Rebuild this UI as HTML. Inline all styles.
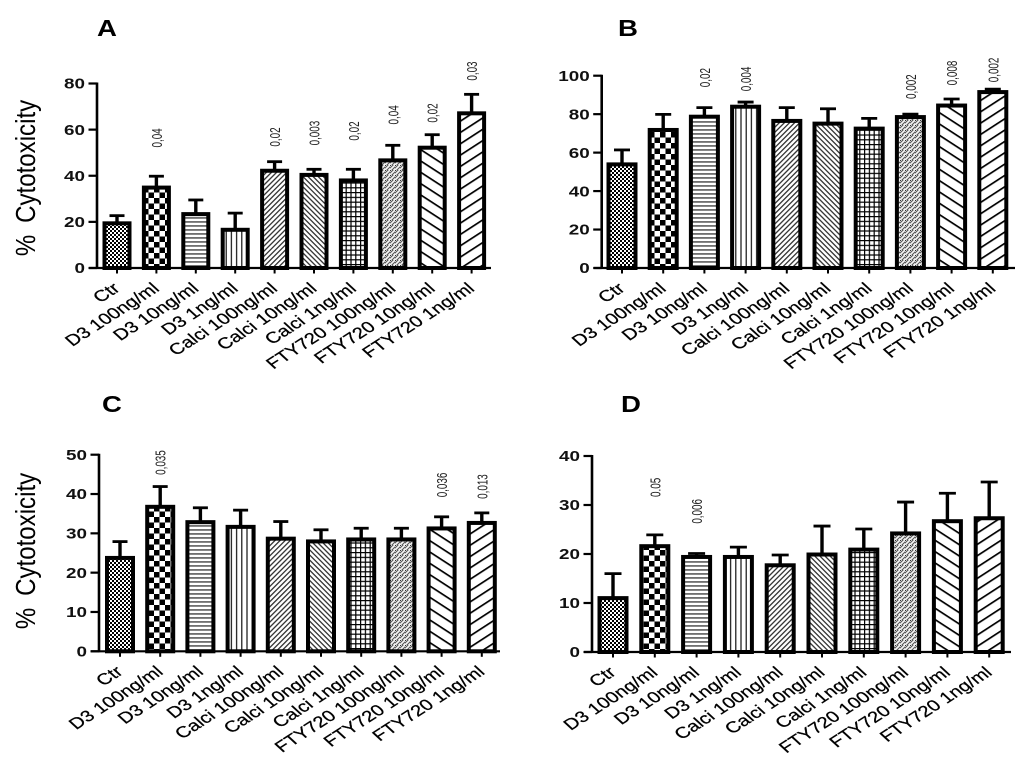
<!DOCTYPE html>
<html lang="en">
<head>
<meta charset="utf-8">
<title>% Cytotoxicity bar charts</title>
<style>
html,body{margin:0;padding:0;background:#fff;width:1024px;height:772px;overflow:hidden}
svg{display:block;filter:blur(0.3px)}
text{font-family:"Liberation Sans",sans-serif}
</style>
</head>
<body>
<svg id="figure" xmlns="http://www.w3.org/2000/svg" width="1024" height="772" viewBox="0 0 1024 772">
<defs>
<pattern id="p0" patternUnits="userSpaceOnUse" width="4" height="4"><rect width="4" height="4" fill="#fff"/><rect width="2" height="2" fill="#000"/><rect x="2" y="2" width="2" height="2" fill="#000"/></pattern>
<pattern id="p1" patternUnits="userSpaceOnUse" width="11" height="11"><rect width="11" height="11" fill="#fff"/><rect width="5.5" height="5.5" fill="#000"/><rect x="5.5" y="5.5" width="5.5" height="5.5" fill="#000"/></pattern>
<pattern id="p2" patternUnits="userSpaceOnUse" width="4" height="4"><rect width="4" height="4" fill="#fff"/><rect y="1.4" width="4" height="1.1" fill="#111"/></pattern>
<pattern id="p3" patternUnits="userSpaceOnUse" width="5.2" height="4"><rect width="5.2" height="4" fill="#fff"/><rect x="2" width="1.2" height="4" fill="#111"/></pattern>
<pattern id="p4" patternUnits="userSpaceOnUse" width="3.6" height="3.6" patternTransform="rotate(-45)"><rect width="3.6" height="3.6" fill="#fff"/><rect width="3.6" height="1.3" fill="#333"/></pattern>
<pattern id="p5" patternUnits="userSpaceOnUse" width="3.6" height="3.6" patternTransform="rotate(45)"><rect width="3.6" height="3.6" fill="#fff"/><rect width="3.6" height="1.3" fill="#333"/></pattern>
<pattern id="p6" patternUnits="userSpaceOnUse" width="4.8" height="4.8"><rect width="4.8" height="4.8" fill="#fff"/><rect width="1.2" height="4.8" fill="#000"/><rect width="4.8" height="1.2" fill="#000"/></pattern>
<pattern id="p7" patternUnits="userSpaceOnUse" width="5" height="5"><rect width="5" height="5" fill="#f4f4f4"/><path d="M-1 4L4 -1M1 6L6 1" stroke="#555" stroke-width="1.1"/><rect width="1" height="1" fill="#333"/></pattern>
<pattern id="p8" patternUnits="userSpaceOnUse" width="9.5" height="9.5" patternTransform="rotate(33)"><rect width="9.5" height="9.5" fill="#fff"/><rect width="9.5" height="1.7" fill="#000"/></pattern>
<pattern id="p9" patternUnits="userSpaceOnUse" width="9.5" height="9.5" patternTransform="rotate(-33)"><rect width="9.5" height="9.5" fill="#fff"/><rect width="9.5" height="1.7" fill="#000"/></pattern>
</defs>
</svg>
<script>
const categories = ["Ctr","D3 100ng/ml","D3 10ng/ml","D3 1ng/ml","Calci 100ng/ml","Calci 10ng/ml","Calci 1ng/ml","FTY720 100ng/ml","FTY720 10ng/ml","FTY720 1ng/ml"];

const valuesA = [19.8,35.3,23.8,17,42.6,40.8,38.4,47.1,52.6,67.5];
const errorTopA = [22.7,39.8,29.5,23.8,46.1,42.8,42.8,53.2,57.8,75.3];
const ticksA = [0,20,40,60,80];
const pTextA = ["0,04","0,02","0,003","0,02","0,04","0,02","0,03"];
const pBarA = [1,4,5,6,7,8,9];
const pLevelA = [56.4,56.8,58.5,59.4,66.4,67.2,85.4];

const valuesB = [54.4,72.3,79.2,84.4,77,75.6,73,79,85,92];
const errorTopB = [61.4,79.9,83.4,86.3,83.4,82.8,77.8,80,87.9,93];
const ticksB = [0,20,40,60,80,100];
const pTextB = ["0,02","0,004","0,002","0,008","0,002"];
const pBarB = [2,3,7,8,9];
const pLevelB = [99,98.3,94.3,101.4,103];

const valuesC = [24,37,33.1,31.9,28.9,28.2,28.7,28.7,31.5,32.9];
const errorTopC = [27.9,41.9,36.5,35.9,33,30.9,31.3,31.3,34.2,35.2];
const ticksC = [0,10,20,30,40,50];
const pTextC = ["0,035","0,036","0,013"];
const pBarC = [1,8,9];
const pLevelC = [48,42.3,41.9];

const valuesD = [11.2,21.8,19.6,19.6,17.9,20.1,21.1,24.4,26.9,27.5];
const errorTopD = [16,23.9,20.1,21.4,19.8,25.7,25.1,30.6,32.4,34.7];
const ticksD = [0,10,20,30,40];
const pTextD = ["0.05","0,006"];
const pBarD = [1,2];
const pLevelD = [33.6,28.7];

const svg = document.getElementById('figure');
const NS = 'http://www.w3.org/2000/svg';

function make(tag, attrs, parent) {
  const el = document.createElementNS(NS, tag);
  for (const k in attrs) el.setAttribute(k, attrs[k]);
  parent.appendChild(el);
  return el;
}

function drawPanel(cfg, values, errorTop, ticks, pText, pBar, pLevel) {
  const yScale = v => cfg.y0 - v * (cfg.y0 - cfg.yTop) / cfg.max;
  const xScale = i => cfg.x0 + i * cfg.step;

  const g = make('g', {}, svg);
  
  

  const letter = make('text', {
    transform: 'translate(' + cfg.letterX + ',' + cfg.letterY + ') scale(1.2,1)',
    'font-size': 23, 'font-weight': 'bold', fill: '#000'
  }, g);
  letter.textContent = cfg.id;
  
  

  if (cfg.title) {
    const title = make('text', {
      transform: 'translate(' + cfg.titleX + ',' + cfg.titleY + ') rotate(-90) scale(0.86,1)',
      'font-size': 28, 'text-anchor': 'middle', 'word-spacing': 6, fill: '#000'
    }, g);
    title.textContent = '% Cytotoxicity';
    
    
  }

  values.forEach((v, i) => {
    const x = xScale(i);
    const sw = 4;
    const stem = make('line', {
      x1: x, x2: x, y1: yScale(v), y2: yScale(errorTop[i]),
      stroke: '#000', 'stroke-width': 3.4
    }, g);
    
    

    const cap = make('line', {
      x1: x - cfg.capW / 2, x2: x + cfg.capW / 2, y1: yScale(errorTop[i]), y2: yScale(errorTop[i]),
      stroke: '#000', 'stroke-width': 2.8
    }, g);
    
    

    const bar = make('rect', {
      x: x - cfg.barW / 2 + sw / 2, y: yScale(v) + 1,
      width: cfg.barW - sw, height: cfg.y0 - yScale(v) - 1,
      fill: 'url(#p' + i + ')', stroke: '#000', 'stroke-width': sw
    }, g);
    
    

    const tick = make('line', {
      x1: x, x2: x, y1: cfg.y0, y2: cfg.y0 + 5.5, stroke: '#000', 'stroke-width': 2
    }, g);
    
    

    const label = make('text', {
      transform: 'translate(' + (x + 4) + ',' + (cfg.y0 + 22) + ') scale(1.3,1) rotate(-40)',
      'font-size': 15.6, 'text-anchor': 'end', fill: '#000', stroke: '#000', 'stroke-width': 0.25
    }, g);
    label.textContent = categories[i];
    
    
  });

  const yAxis = make('line', {
    x1: cfg.axisX, x2: cfg.axisX, y1: cfg.yTop - 1, y2: cfg.y0 + 1, stroke: '#000', 'stroke-width': 2.6
  }, g);
  
  

  const xAxis = make('line', {
    x1: cfg.axisX - 8, x2: cfg.axisEnd, y1: cfg.y0, y2: cfg.y0, stroke: '#000', 'stroke-width': 2.2
  }, g);
  
  

  ticks.forEach(t => {
    const y = yScale(t);
    const tk = make('line', {
      x1: cfg.axisX - 8.5, x2: cfg.axisX, y1: y, y2: y, stroke: '#000', 'stroke-width': 2.2
    }, g);
    
    

    const lb = make('text', {
      transform: 'translate(' + (cfg.axisX - 12) + ',' + (y + 5.2) + ') scale(1.3,1)',
      'font-size': 14.5, 'font-weight': 'bold', 'text-anchor': 'end', fill: '#111'
    }, g);
    lb.textContent = t;
    
    
  });

  pText.forEach((s, i) => {
    const p = make('text', {
      transform: 'translate(' + (xScale(pBar[i]) + 5.5) + ',' + yScale(pLevel[i]) + ') rotate(-90) scale(0.68,1)',
      'font-size': 14.5, 'text-anchor': 'middle', fill: '#222'
    }, g);
    p.textContent = s;
    
    
  });
}

drawPanel({id:'A',x0:117,step:39.4,y0:268,yTop:83.5,max:80,axisX:97,axisEnd:491,barW:29,capW:15,letterX:97,letterY:36,title:true,titleX:35,titleY:178},
  valuesA, errorTopA, ticksA, pTextA, pBarA, pLevelA);
drawPanel({id:'B',x0:622,step:41.2,y0:268,yTop:75.7,max:100,axisX:601.7,axisEnd:1015,barW:31,capW:16,letterX:618,letterY:36,title:false},
  valuesB, errorTopB, ticksB, pTextB, pBarB, pLevelB);
drawPanel({id:'C',x0:120,step:40.2,y0:651.3,yTop:454.7,max:50,axisX:99,axisEnd:500,barW:30,capW:15,letterX:102,letterY:412,title:true,titleX:35,titleY:551},
  valuesC, errorTopC, ticksC, pTextC, pBarC, pLevelC);
drawPanel({id:'D',x0:613,step:41.8,y0:652,yTop:456,max:40,axisX:592,axisEnd:1011,barW:31,capW:17,letterX:621,letterY:412,title:false},
  valuesD, errorTopD, ticksD, pTextD, pBarD, pLevelD);
</script>
</body>
</html>
